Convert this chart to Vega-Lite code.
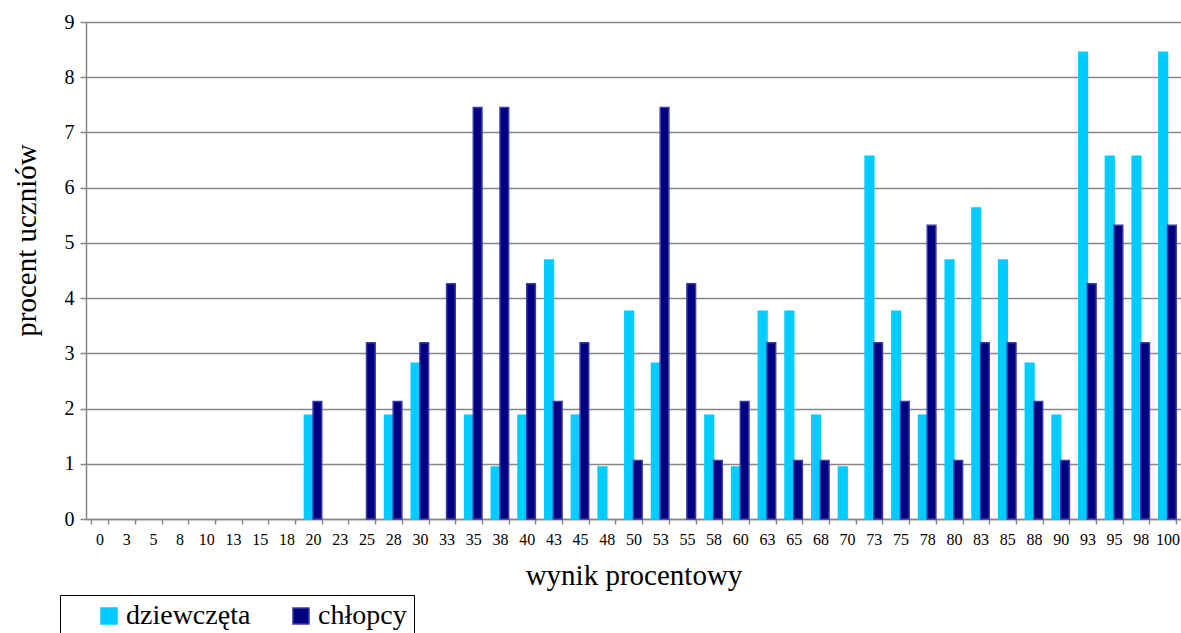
{
  "$schema": "https://vega.github.io/schema/vega-lite/v6.json",
  "width": 1095,
  "height": 497,
  "autosize": "none",
  "padding": {"left": 86, "top": 22, "right": 0, "bottom": 114},
  "background": "white",
  "config": {
    "view": {"stroke": null},
    "font": "Liberation Serif",
    "axis": {"labelFont": "Liberation Serif", "titleFont": "Liberation Serif", "labelColor": "black", "titleColor": "black", "titleFontWeight": "normal"},
    "legend": {"labelFont": "Liberation Serif", "titleFont": "Liberation Serif"}
  },
  "data": {
    "values": [
      {"wynik": "20", "plec": "dziewczęta", "procent": 1.88},
      {"wynik": "20", "plec": "chłopcy", "procent": 2.13},
      {"wynik": "25", "plec": "chłopcy", "procent": 3.19},
      {"wynik": "28", "plec": "dziewczęta", "procent": 1.88},
      {"wynik": "28", "plec": "chłopcy", "procent": 2.13},
      {"wynik": "30", "plec": "dziewczęta", "procent": 2.82},
      {"wynik": "30", "plec": "chłopcy", "procent": 3.19},
      {"wynik": "33", "plec": "chłopcy", "procent": 4.26},
      {"wynik": "35", "plec": "dziewczęta", "procent": 1.88},
      {"wynik": "35", "plec": "chłopcy", "procent": 7.45},
      {"wynik": "38", "plec": "dziewczęta", "procent": 0.94},
      {"wynik": "38", "plec": "chłopcy", "procent": 7.45},
      {"wynik": "40", "plec": "dziewczęta", "procent": 1.88},
      {"wynik": "40", "plec": "chłopcy", "procent": 4.26},
      {"wynik": "43", "plec": "dziewczęta", "procent": 4.69},
      {"wynik": "43", "plec": "chłopcy", "procent": 2.13},
      {"wynik": "45", "plec": "dziewczęta", "procent": 1.88},
      {"wynik": "45", "plec": "chłopcy", "procent": 3.19},
      {"wynik": "48", "plec": "dziewczęta", "procent": 0.94},
      {"wynik": "50", "plec": "dziewczęta", "procent": 3.76},
      {"wynik": "50", "plec": "chłopcy", "procent": 1.06},
      {"wynik": "53", "plec": "dziewczęta", "procent": 2.82},
      {"wynik": "53", "plec": "chłopcy", "procent": 7.45},
      {"wynik": "55", "plec": "chłopcy", "procent": 4.26},
      {"wynik": "58", "plec": "dziewczęta", "procent": 1.88},
      {"wynik": "58", "plec": "chłopcy", "procent": 1.06},
      {"wynik": "60", "plec": "dziewczęta", "procent": 0.94},
      {"wynik": "60", "plec": "chłopcy", "procent": 2.13},
      {"wynik": "63", "plec": "dziewczęta", "procent": 3.76},
      {"wynik": "63", "plec": "chłopcy", "procent": 3.19},
      {"wynik": "65", "plec": "dziewczęta", "procent": 3.76},
      {"wynik": "65", "plec": "chłopcy", "procent": 1.06},
      {"wynik": "68", "plec": "dziewczęta", "procent": 1.88},
      {"wynik": "68", "plec": "chłopcy", "procent": 1.06},
      {"wynik": "70", "plec": "dziewczęta", "procent": 0.94},
      {"wynik": "73", "plec": "dziewczęta", "procent": 6.57},
      {"wynik": "73", "plec": "chłopcy", "procent": 3.19},
      {"wynik": "75", "plec": "dziewczęta", "procent": 3.76},
      {"wynik": "75", "plec": "chłopcy", "procent": 2.13},
      {"wynik": "78", "plec": "dziewczęta", "procent": 1.88},
      {"wynik": "78", "plec": "chłopcy", "procent": 5.32},
      {"wynik": "80", "plec": "dziewczęta", "procent": 4.69},
      {"wynik": "80", "plec": "chłopcy", "procent": 1.06},
      {"wynik": "83", "plec": "dziewczęta", "procent": 5.63},
      {"wynik": "83", "plec": "chłopcy", "procent": 3.19},
      {"wynik": "85", "plec": "dziewczęta", "procent": 4.69},
      {"wynik": "85", "plec": "chłopcy", "procent": 3.19},
      {"wynik": "88", "plec": "dziewczęta", "procent": 2.82},
      {"wynik": "88", "plec": "chłopcy", "procent": 2.13},
      {"wynik": "90", "plec": "dziewczęta", "procent": 1.88},
      {"wynik": "90", "plec": "chłopcy", "procent": 1.06},
      {"wynik": "93", "plec": "dziewczęta", "procent": 8.45},
      {"wynik": "93", "plec": "chłopcy", "procent": 4.26},
      {"wynik": "95", "plec": "dziewczęta", "procent": 6.57},
      {"wynik": "95", "plec": "chłopcy", "procent": 5.32},
      {"wynik": "98", "plec": "dziewczęta", "procent": 6.57},
      {"wynik": "98", "plec": "chłopcy", "procent": 3.19},
      {"wynik": "100", "plec": "dziewczęta", "procent": 8.45},
      {"wynik": "100", "plec": "chłopcy", "procent": 5.32}
    ]
  },
  "mark": {"type": "bar", "strokeWidth": 1.5},
  "encoding": {
    "x": {
      "field": "wynik",
      "type": "ordinal",
      "scale": {
        "domain": ["0","3","5","8","10","13","15","18","20","23","25","28","30","33","35","38","40","43","45","48","50","53","55","58","60","63","65","68","70","73","75","78","80","83","85","88","90","93","95","98","100"],
        "paddingInner": 0.35,
        "paddingOuter": 0.18
      },
      "axis": {
        "title": "wynik procentowy",
        "titleFontSize": 29,
        "titlePadding": 14,
        "labelFontSize": 16,
        "labelAngle": 0,
        "labelPadding": 7,
        "tickBand": "extent",
        "tickSize": 5,
        "tickColor": "#868686",
        "tickWidth": 1.5,
        "domainColor": "#868686",
        "domainWidth": 1.5,
        "grid": false
      }
    },
    "xOffset": {
      "field": "plec",
      "type": "nominal",
      "scale": {"domain": ["dziewczęta", "chłopcy"], "paddingInner": 0, "paddingOuter": 0}
    },
    "y": {
      "field": "procent",
      "type": "quantitative",
      "scale": {"domain": [0, 9], "nice": false},
      "axis": {
        "title": "procent uczniów",
        "titleFontSize": 29,
        "titlePadding": 23,
        "titleY": 218,
        "values": [0,1,2,3,4,5,6,7,8,9],
        "labelFontSize": 20,
        "labelPadding": 6,
        "tickSize": 6,
        "tickColor": "#868686",
        "tickWidth": 1.5,
        "domainColor": "#868686",
        "domainWidth": 1.5,
        "grid": true,
        "gridColor": "#868686",
        "gridWidth": 1.5
      }
    },
    "color": {
      "field": "plec",
      "type": "nominal",
      "scale": {"domain": ["dziewczęta", "chłopcy"], "range": ["#00CCFF", "#000080"]},
      "legend": {
        "title": " ",
        "titleOrient": "left",
        "titleFontSize": 10,
        "titlePadding": 28,
        "orient": "none",
        "legendX": -26,
        "legendY": 573,
        "direction": "horizontal",
        "symbolType": "square",
        "symbolSize": 256,
        "symbolStrokeWidth": 1.5,
        "labelFontSize": 28,
        "labelOffset": 3,
        "columnPadding": 36,
        "padding": 7,
        "strokeColor": "black",
        "fillColor": "white",
        "labelExpr": "datum.label == 'chłopcy' ? datum.label + '\u00a0\u00a0\u00a0\u00a0' : datum.label"
      }
    },
    "stroke": {
      "field": "plec",
      "type": "nominal",
      "scale": {"domain": ["dziewczęta", "chłopcy"], "range": ["#00CCFF", "#3A3AA8"]},
      "legend": null
    }
  }
}
